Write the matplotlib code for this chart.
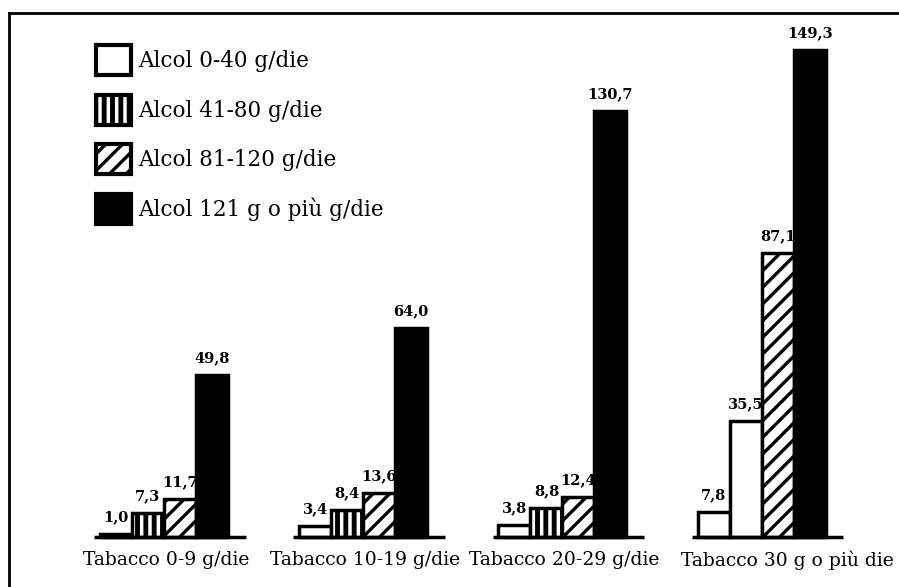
import matplotlib
matplotlib.use("Agg")
import matplotlib.pyplot as plt
from matplotlib.patches import Patch
import numpy as np

groups = ["Tabacco 0-9 g/die", "Tabacco 10-19 g/die",
          "Tabacco 20-29 g/die", "Tabacco 30 g o più die"]
series_names = ["Alcol 0-40 g/die", "Alcol 41-80 g/die",
                "Alcol 81-120 g/die", "Alcol 121 g o più g/die"]
alcol_0_40 = [1.0, 3.4, 3.8, 7.8]
alcol_41_80 = [7.3, 8.4, 8.8, 35.5]
alcol_81_120 = [11.7, 13.6, 12.4, 87.1]
alcol_121_plus = [49.8, 64.0, 130.7, 149.3]
value_labels = [["1,0", "3,4", "3,8", "7,8"],
                ["7,3", "8,4", "8,8", "35,5"],
                ["11,7", "13,6", "12,4", "87,1"],
                ["49,8", "64,0", "130,7", "149,3"]]

series = [alcol_0_40, alcol_41_80, alcol_81_120, alcol_121_plus]

W, H = 899, 587
fig = plt.figure(figsize=(W / 100, H / 100), dpi=100)
ax = fig.add_axes([9 / W, 0, 1 - 9 / W, (H - 13) / H])

serif = "DejaVu Serif"
styles = [dict(fc="white", hatch=None, hlw=None),
          dict(fc="white", hatch="||", hlw=3.5),
          dict(fc="white", hatch="//", hlw=2.4),
          dict(fc="black", hatch=None, hlw=None)]

x = np.arange(len(groups))
px_per_unit = 199.2
w = 32 / px_per_unit
for k, vals in enumerate(series):
    st = styles[k]
    for i, v in enumerate(vals):
        hatch = st["hatch"]
        # in the original, the 41-80 bar of the last group is drawn plain white
        if k == 1 and i == 3:
            hatch = None
        b = ax.bar(x[i] + (k - 1.5) * w, v, width=w, facecolor=st["fc"],
                   edgecolor="black", linewidth=2.5, hatch=hatch, zorder=2)
        if hatch and st["hlw"]:
            for p in b:
                try:
                    p.set_hatch_linewidth(st["hlw"])
                except AttributeError:
                    pass
        ax.annotate(value_labels[k][i], (x[i] + (k - 1.5) * w, v),
                    xytext=(0, 7), textcoords="offset points",
                    ha="center", va="bottom", fontsize=10.5,
                    fontweight="bold", family=serif)

for i in range(len(groups)):
    ax.plot([x[i] - 0.35, x[i] + 0.41], [0, 0], color="black", lw=2.5,
            solid_capstyle="butt", zorder=3)
    ax.annotate(groups[i], (x[i] + (0.13 if i == 3 else 0.01), 0),
                xytext=(0, -10), textcoords="offset points",
                ha="center", va="top", fontsize=13.5, family=serif)

ax.set_xlim(-155 / px_per_unit, (890 - 155) / px_per_unit)
scale = 487 / 149.3
ax.set_ylim(-50 / scale, (574 - 50) / scale)
ax.set_xticks([])
ax.set_yticks([])
for s in ["right", "bottom"]:
    ax.spines[s].set_visible(False)
for s in ["left", "top"]:
    ax.spines[s].set_linewidth(2)

handles = []
for k in range(4):
    st = styles[k]
    handles.append(Patch(facecolor=st["fc"], edgecolor="black", linewidth=3,
                         hatch=st["hatch"], label=series_names[k]))
leg = ax.legend(handles=handles, loc="upper left",
                bbox_to_anchor=(96 / W, 1 - 45 / H), bbox_transform=fig.transFigure,
                frameon=False, borderpad=0, borderaxespad=0,
                handlelength=1.63, handleheight=1.77, handletextpad=0.33,
                labelspacing=0.91, prop={"family": serif, "size": 15.5})
for k, p in enumerate(leg.get_patches()):
    if styles[k]["hlw"]:
        try:
            p.set_hatch_linewidth(styles[k]["hlw"])
        except AttributeError:
            pass

fig.savefig("out.png", dpi=100)
